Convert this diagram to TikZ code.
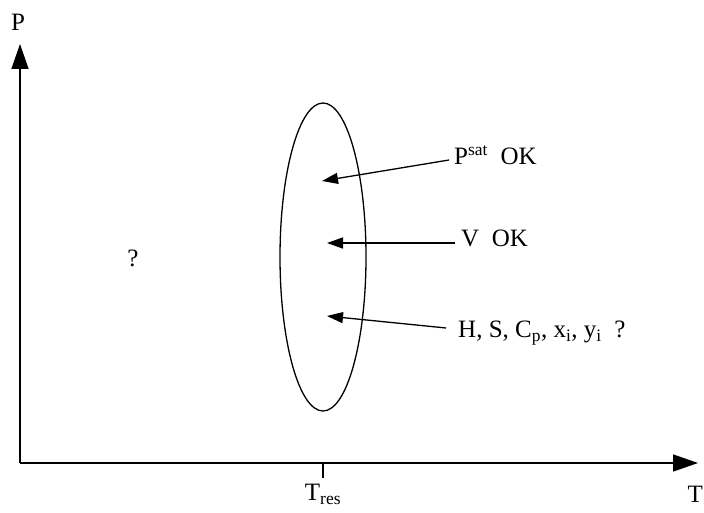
\documentclass[tikz,border=0pt]{standalone}
\usepackage{fontspec}
\setmainfont{Liberation Serif}
\usetikzlibrary{arrows.meta,shapes.geometric}
\begin{document}
\begin{tikzpicture}[x=1pt,y=-1pt,
  axis/.style={line width=1.4pt,-{Triangle[length=25pt,width=17pt]}},
  pointer/.style={line width=1.3pt,-{Triangle[length=16pt,width=11pt]}},
  lbl/.style={font=\fontsize{25}{29}\selectfont,inner sep=0pt}]
\useasboundingbox (0,0) rectangle (704,513);
\fill[white] (0,0) rectangle (704,513);
\coordinate (O) at (20,463);
\coordinate (Ytop) at (20,44);
\coordinate (Xend) at (698,463);
\draw[axis] (O) -- (Ytop);
\draw[axis] (O) -- (Xend);
\node[lbl] (P) at (18,22) {P};
\node[lbl,anchor=east] (T) at (703,494) {T};
\coordinate (tick) at (323,463);
\coordinate (tickb) at (323,478);
\draw[line width=1.4pt] (tick) -- (tickb);
\node[lbl,anchor=north] (Tres) at (323,484) {T\textsubscript{res}};
\node[ellipse,draw,line width=1.3pt,minimum width=86pt,minimum height=308pt,inner sep=0pt] (ell) at (323,257) {};
\node[lbl] (q) at (133,258) {?};
\node[lbl,anchor=west] (psat) at (454,155) {P\textsuperscript{sat}\ \ OK};
\node[lbl,anchor=west] (v) at (461,238) {V\ \ OK};
\node[lbl,anchor=west] (h) at (458,333) {H, S, C\textsubscript{p}, x\textsubscript{i}, y\textsubscript{i}\ \ ?};
\coordinate (a1s) at (449,160);
\coordinate (a1e) at (322,181);
\coordinate (a2s) at (455,243);
\coordinate (a2e) at (327,243);
\coordinate (a3s) at (446,328);
\coordinate (a3e) at (327,316);
\draw[pointer] (a1s) -- (a1e);
\draw[pointer] (a2s) -- (a2e);
\draw[pointer] (a3s) -- (a3e);
\end{tikzpicture}
\end{document}
